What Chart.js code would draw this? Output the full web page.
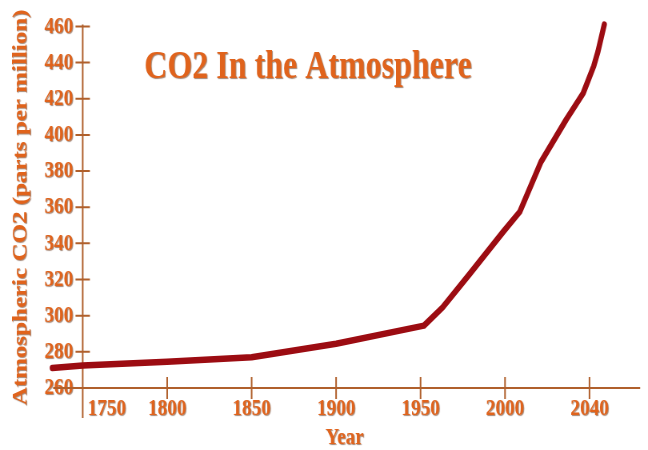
<!DOCTYPE html>
<html>
<head>
<meta charset="utf-8">
<title>CO2 In the Atmosphere</title>
<script src="https://cdn.jsdelivr.net/npm/chart.js@4.4.1/dist/chart.umd.min.js"></script>
<style>
    html, body { margin: 0; padding: 0; background: #fff; overflow: hidden; }
    /* the source picture is squeezed sideways, so draw wide and squeeze */
    #wrap {
        position: absolute; left: 0; top: 0;
        width: 810px; height: 450px;
        transform: scaleX(0.8); transform-origin: 0 0;
    }
</style>
</head>
<body>
<div id="wrap"><canvas id="co2Chart"></canvas></div>
<script>
(function co2Chart () {
    'use strict';

    var chartTitle = 'CO2 In the Atmosphere';
    var yTitle = 'Atmospheric CO2 (parts per million)';
    var xTitle = 'Year';

    // tick labels of the year axis (equally spaced in the picture)
    var tickYears = [1750, 1800, 1850, 1900, 1950, 2000, 2040];

    // curve
    var years = [1732, 1750, 1800, 1850, 1900, 1952, 1963, 1979, 1999, 2007, 2017, 2029, 2037, 2042, 2044, 2047];
    var co2 = [271, 272.5, 274.5, 277, 284.5, 294.5, 304.5, 323, 346.5, 357.5, 385, 408.5, 423, 438, 446, 461];

    var orange = '#e0631c';
    var axisBrown = '#b0602c';
    var curveRed = '#9c0c12';
    var fontFamily = '"Liberation Serif", "Times New Roman", serif';

    // year -> position on the axis, spacing between labelled years is even
    function yearToPos (year) {
        var i = 1;

        while (i < tickYears.length - 1 && year > tickYears[i]) {
            i++;
        }
        return (i - 1) + (year - tickYears[i - 1]) / (tickYears[i] - tickYears[i - 1]);
    }

    var points = years.map(function toPoint (year, i) {
        return { x: yearToPos(year), y: co2[i] };
    });

    var axesPlugin = {
        id: 'crossAxes',
        beforeDraw: function (chart) {
            var ctx = chart.ctx;

            ctx.save();
            ctx.shadowColor = 'rgba(90, 35, 0, 0.55)';
            ctx.shadowOffsetX = 1;
            ctx.shadowOffsetY = 1;
            ctx.shadowBlur = 1;
        },
        beforeDatasetsDraw: function (chart) {
            var ctx = chart.ctx;
            var xs = chart.scales.x;
            var ys = chart.scales.y;
            var x0 = xs.getPixelForValue(0);
            var y0 = ys.getPixelForValue(260);

            ctx.restore();
            ctx.save();
            ctx.strokeStyle = axisBrown;
            ctx.lineWidth = 2;
            ctx.beginPath();
            ctx.moveTo(x0, ys.getPixelForValue(460) - 2);
            ctx.lineTo(x0, y0 + 30);
            ctx.moveTo(xs.getPixelForValue(-0.35), y0);
            ctx.lineTo(xs.getPixelForValue(6.6), y0);
            ys.ticks.forEach(function (t) {
                if (t.value > 260) {
                    var y = ys.getPixelForValue(t.value);
                    ctx.moveTo(x0 - 9, y);
                    ctx.lineTo(x0 + 9, y);
                }
            });
            xs.ticks.forEach(function (t) {
                if (t.value > 0) {
                    var x = xs.getPixelForValue(t.value);
                    ctx.moveTo(x, y0 - 11);
                    ctx.lineTo(x, y0 + 11);
                }
            });
            ctx.stroke();
            ctx.restore();
        },
        afterDraw: function (chart) {
            var ctx = chart.ctx;

            ctx.save();
            ctx.font = 'bold 40px ' + fontFamily;
            ctx.fillStyle = orange;
            ctx.textAlign = 'center';
            ctx.textBaseline = 'alphabetic';
            ctx.shadowColor = 'rgba(90, 35, 0, 0.55)';
            ctx.shadowOffsetX = 1;
            ctx.shadowOffsetY = 1;
            ctx.shadowBlur = 1;
            ctx.fillText(chartTitle, 385, 78);
            ctx.restore();
        }
    };

    var ctx = document.getElementById('co2Chart').getContext('2d');

    new Chart(ctx, {
        type: 'line',
        data: {
            datasets: [{
                data: points,
                borderColor: curveRed,
                borderWidth: 6.5,
                borderCapStyle: 'round',
                borderJoinStyle: 'round',
                pointRadius: 0,
                tension: 0,
                clip: false
            }]
        },
        options: {
            responsive: true,
            maintainAspectRatio: false,
            animation: false,
            layout: {
                padding: { left: 0, right: 52, top: 21, bottom: 0 }
            },
            plugins: {
                legend: { display: false },
                tooltip: { enabled: false }
            },
            scales: {
                x: {
                    type: 'linear',
                    min: 0,
                    max: 6.2,
                    afterBuildTicks: function (scale) {
                        scale.ticks = tickYears.map(function (y, i) {
                            return { value: i };
                        });
                    },
                    afterFit: function (scale) {
                        scale.height = 62;
                    },
                    grid: { display: false, drawTicks: false },
                    border: { display: false },
                    ticks: {
                        padding: 6,
                        color: orange,
                        font: { family: fontFamily, size: 24, weight: 'bold' },
                        maxRotation: 0,
                        autoSkip: false,
                        callback: function (value) {
                            // first label sits clear of the y axis
                            return value === 0 ? '          ' + tickYears[0] : String(tickYears[value]);
                        }
                    },
                    title: {
                        display: true,
                        text: xTitle,
                        color: orange,
                        font: { family: fontFamily, size: 24, weight: 'bold', lineHeight: 1 },
                        padding: { top: 0, bottom: 0 }
                    }
                },
                y: {
                    type: 'linear',
                    min: 260,
                    max: 460,
                    afterFit: function (scale) {
                        scale.width = 103.4;
                    },
                    grid: { display: false, drawTicks: false },
                    border: { display: false },
                    ticks: {
                        stepSize: 20,
                        padding: 12,
                        color: orange,
                        font: { family: fontFamily, size: 24, weight: 'bold' }
                    },
                    title: {
                        display: true,
                        text: yTitle,
                        color: orange,
                        font: { family: fontFamily, size: 25, weight: 'bold' },
                        padding: { top: 12, bottom: 0 }
                    }
                }
            }
        },
        plugins: [axesPlugin]
    });
}());
</script>
</body>
</html>
